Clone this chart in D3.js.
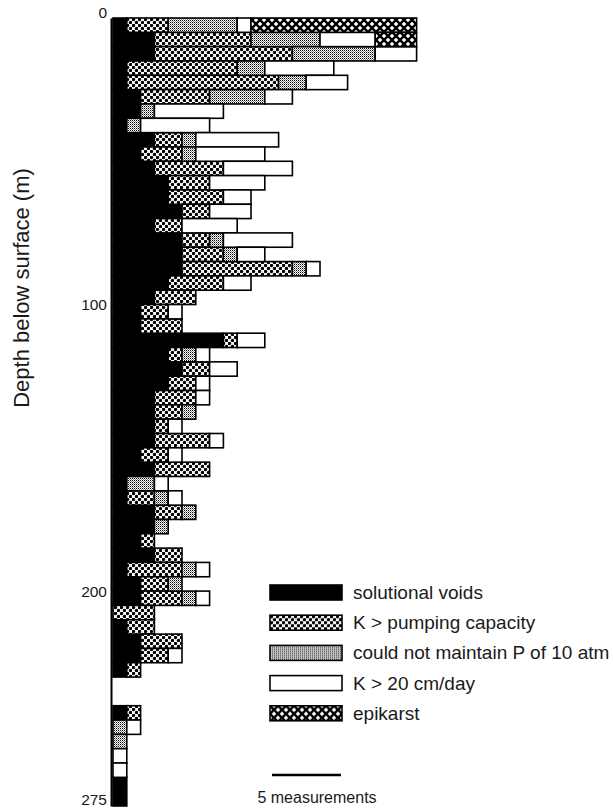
<!DOCTYPE html>
<html>
<head>
<meta charset="utf-8">
<script src="https://cdn.jsdelivr.net/npm/d3@7"></script>
<style>
  body { margin: 0; background: #fff; }
  svg text { font-family: "Liberation Sans", Arial, sans-serif; fill: #1a1a1a; }
</style>
</head>
<body>
<div id="chart"></div>
<script>
// depth intervals (m); 230-240 has no record, the last one spans 10 m
const depthFrom = [0, 5, 10, 15, 20, 25, 30, 35, 40, 45, 50, 55, 60, 65, 70, 75, 80, 85, 90, 95,
  100, 105, 110, 115, 120, 125, 130, 135, 140, 145, 150, 155, 160, 165, 170, 175, 180, 185, 190, 195,
  200, 205, 210, 215, 220, 225, 240, 245, 250, 255, 260, 265];
const depthTo = [5, 10, 15, 20, 25, 30, 35, 40, 45, 50, 55, 60, 65, 70, 75, 80, 85, 90, 95, 100,
  105, 110, 115, 120, 125, 130, 135, 140, 145, 150, 155, 160, 165, 170, 175, 180, 185, 190, 195, 200,
  205, 210, 215, 220, 225, 230, 245, 250, 255, 260, 265, 275];

// number of measurements in each class
const voids = [1, 3, 3, 1, 1, 2, 2, 1, 3, 2, 3, 4, 4, 5, 3, 5, 5, 5, 4, 3,
  2, 2, 8, 4, 5, 4, 3, 3, 3, 3, 2, 3, 1, 1, 3, 3, 2, 3, 1, 2,
  2, 0, 1, 2, 2, 1, 1, 0, 0, 0, 0, 1];
const pumping = [3, 7, 10, 8, 11, 5, 0, 0, 2, 3, 5, 3, 4, 2, 2, 2, 3, 8, 4, 3,
  2, 3, 1, 1, 2, 2, 3, 2, 1, 4, 2, 4, 0, 2, 2, 0, 1, 2, 4, 2,
  3, 3, 2, 3, 2, 1, 1, 0, 0, 0, 0, 0];
const pressure = [5, 5, 6, 2, 2, 4, 1, 1, 1, 1, 0, 0, 0, 0, 0, 1, 1, 1, 0, 0,
  0, 0, 0, 1, 0, 0, 0, 1, 0, 0, 0, 0, 2, 1, 1, 1, 0, 0, 1, 1,
  1, 0, 0, 0, 0, 0, 0, 1, 1, 0, 0, 0];
const highK = [1, 4, 3, 5, 3, 2, 5, 5, 6, 5, 5, 4, 2, 3, 4, 5, 2, 1, 2, 0,
  1, 0, 2, 1, 2, 1, 1, 0, 1, 1, 1, 0, 1, 1, 0, 0, 0, 0, 1, 0,
  1, 0, 0, 0, 1, 0, 0, 1, 0, 1, 1, 0];
const epikarst = [12, 3, 0, 0, 0, 0, 0, 0, 0, 0, 0, 0, 0, 0, 0, 0, 0, 0, 0, 0,
  0, 0, 0, 0, 0, 0, 0, 0, 0, 0, 0, 0, 0, 0, 0, 0, 0, 0, 0, 0,
  0, 0, 0, 0, 0, 0, 0, 0, 0, 0, 0, 0];

const classKeys = ["voids", "pumping", "pressure", "highK", "epikarst"];
const classLabels = ["solutional voids", "K > pumping capacity", "could not maintain P of 10 atm",
  "K > 20 cm/day", "epikarst"];
const depthTicks = [0, 100, 200, 275];
const scaleBarCount = 5;

const width = 613;
const height = 811;

const svg = d3.select("#chart").append("svg").attr("width", width).attr("height", height);

// fill patterns, roughly like the scanned screens
const defs = svg.append("defs");

const pump = defs.append("pattern").attr("id", "pat-pumping")
  .attr("patternUnits", "userSpaceOnUse").attr("width", 6).attr("height", 6);
pump.append("rect").attr("width", 6).attr("height", 6).attr("fill", "#fff");
pump.append("circle").attr("cx", 1.5).attr("cy", 1.5).attr("r", 1.7).attr("fill", "#000");
pump.append("circle").attr("cx", 4.5).attr("cy", 4.5).attr("r", 1.7).attr("fill", "#000");

const pres = defs.append("pattern").attr("id", "pat-pressure")
  .attr("patternUnits", "userSpaceOnUse").attr("width", 2).attr("height", 2);
pres.append("rect").attr("width", 2).attr("height", 2).attr("fill", "#fff");
pres.append("rect").attr("width", 1).attr("height", 1).attr("fill", "#000");
pres.append("rect").attr("x", 1).attr("y", 1).attr("width", 1).attr("height", 1).attr("fill", "#888");

const epi = defs.append("pattern").attr("id", "pat-epikarst")
  .attr("patternUnits", "userSpaceOnUse").attr("width", 8).attr("height", 8);
epi.append("rect").attr("width", 8).attr("height", 8).attr("fill", "#fff");
epi.append("path").attr("d", "M-1,-1L9,9M9,-1L-1,9")
  .attr("stroke", "#000").attr("stroke-width", 2.4);

const fills = {
  voids: "#000",
  pumping: "url(#pat-pumping)",
  pressure: "url(#pat-pressure)",
  highK: "#fff",
  epikarst: "url(#pat-epikarst)"
};

// scales
const y = d3.scaleLinear().domain([0, 275]).range([18, 806]);
const x = d3.scaleLinear().domain([0, 22]).range([113, 416.6]);

const rows = depthFrom.map((d, i) => ({
  from: d,
  to: depthTo[i],
  voids: voids[i],
  pumping: pumping[i],
  pressure: pressure[i],
  highK: highK[i],
  epikarst: epikarst[i]
}));

const stacked = d3.stack().keys(classKeys)(rows);

const bars = svg.append("g");
stacked.forEach((series) => {
  bars.append("g")
    .selectAll("rect")
    .data(series.filter((s) => s[1] > s[0]))
    .enter()
    .append("rect")
    .attr("x", (s) => x(s[0]))
    .attr("width", (s) => x(s[1]) - x(s[0]))
    .attr("y", (s) => y(s.data.from))
    .attr("height", (s) => y(s.data.to) - y(s.data.from))
    .attr("fill", fills[series.key])
    .attr("stroke", "#000")
    .attr("stroke-width", 1.6);
});

// depth axis
const axis = svg.append("g")
  .attr("transform", `translate(${x(0) - 2},0)`)
  .call(d3.axisLeft(y).tickValues(depthTicks).tickSize(0).tickSizeOuter(0).tickPadding(4));
axis.select(".domain").attr("stroke", "#000").attr("stroke-width", 2);
axis.selectAll("text")
  .style("font-size", "15.5px")
  .attr("dy", (d) => (d === 0 ? "-0.05em" : d === 275 ? "-0.1em" : "0.32em"));

svg.append("text")
  .attr("transform", "translate(29,288) rotate(-90)")
  .attr("text-anchor", "middle")
  .style("font-size", "22px")
  .text("Depth below surface (m)");

// legend
const legend = svg.append("g").attr("transform", "translate(270,585)");
classKeys.forEach((k, i) => {
  const g = legend.append("g").attr("transform", `translate(0,${i * 30.2})`);
  g.append("rect")
    .attr("width", 72).attr("height", 15)
    .attr("fill", fills[k]).attr("stroke", "#000").attr("stroke-width", 1.6);
  g.append("text")
    .attr("x", 83).attr("y", 14)
    .style("font-size", "19px")
    .text(classLabels[i]);
});

// scale bar
const barLen = x(scaleBarCount) - x(0);
svg.append("line")
  .attr("x1", 272).attr("x2", 272 + barLen)
  .attr("y1", 775).attr("y2", 775)
  .attr("stroke", "#000").attr("stroke-width", 2.5);
svg.append("text")
  .attr("x", 317).attr("y", 803)
  .attr("text-anchor", "middle")
  .style("font-size", "16px")
  .text(scaleBarCount + " measurements");
</script>
</body>
</html>
